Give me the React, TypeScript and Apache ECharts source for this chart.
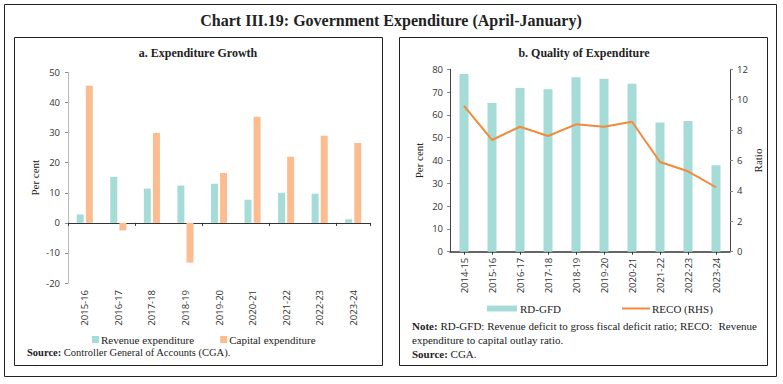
import React, { useEffect, useRef } from "react";
import * as echarts from "echarts";

const categoriesA = ["2015-16", "2016-17", "2017-18", "2018-19", "2019-20", "2020-21", "2021-22", "2022-23", "2023-24"];
const revenueExp = [2.8, 15.3, 11.4, 12.4, 13.0, 7.7, 10.0, 9.7, 1.2];
const capitalExp = [45.6, -2.5, 29.9, -13.2, 16.6, 35.3, 22.0, 29.0, 26.6];

const categoriesB = ["2014-15", "2015-16", "2016-17", "2017-18", "2018-19", "2019-20", "2020-21", "2021-22", "2022-23", "2023-24"];
const rdGfd = [77.9, 65.2, 71.8, 71.2, 76.5, 75.9, 73.7, 56.7, 57.3, 37.9];
const reco = [9.6, 7.35, 8.22, 7.61, 8.38, 8.22, 8.55, 5.9, 5.29, 4.24];

const TEAL = "#a6dcd8";
const ORANGE_BAR = "#fbbd8f";
const ORANGE_LINE = "#f28a3c";
const SERIF = "'Liberation Serif', serif";
const SANS = "'Open Sans', sans-serif";

export default function App() {
  const ref = useRef<HTMLDivElement>(null);
  useEffect(() => {
    if (!ref.current) return;
    const chart = echarts.init(ref.current, null, { renderer: "svg" });
    const tickLabel = { fontFamily: SANS, fontSize: 9.5, color: "#333" };
    const nameStyle = { fontFamily: SERIF, fontSize: 11, color: "#222" };
    const boldRich = (size: number) => ({ b: { fontFamily: SERIF, fontSize: size, fontWeight: "bold", fill: "#222" } });
    chart.setOption({
      animation: false,
      backgroundColor: "#fff",
      graphic: [
        { type: "rect", shape: { x: 4.5, y: 4.5, width: 772, height: 372 }, style: { fill: "none", stroke: "#222", lineWidth: 1 } },
        { type: "rect", shape: { x: 14.5, y: 37.5, width: 368, height: 328 }, style: { fill: "none", stroke: "#222", lineWidth: 1 } },
        { type: "rect", shape: { x: 399.5, y: 37.5, width: 368, height: 328 }, style: { fill: "none", stroke: "#222", lineWidth: 1 } },
        {
          type: "text", x: 391, y: 20,
          style: { text: "Chart III.19: Government Expenditure (April-January)", fontFamily: SERIF, fontSize: 16, fontWeight: "bold", fill: "#222", align: "center", verticalAlign: "middle" },
        },
        {
          type: "text", x: 198, y: 53,
          style: { text: "a. Expenditure Growth", fontFamily: SERIF, fontSize: 12, fontWeight: "bold", fill: "#222", align: "center", verticalAlign: "middle" },
        },
        {
          type: "text", x: 584, y: 53,
          style: { text: "b. Quality of Expenditure", fontFamily: SERIF, fontSize: 12, fontWeight: "bold", fill: "#222", align: "center", verticalAlign: "middle" },
        },
        {
          type: "text", x: 27, y: 352,
          style: {
            text: "{b|Source:} Controller General of Accounts (CGA).",
            fontFamily: SERIF, fontSize: 10.5, fill: "#222", verticalAlign: "middle",
            rich: boldRich(10.5),
          },
        },
        {
          type: "text", x: 412, y: 326,
          style: {
            text: "{b|Note:} RD-GFD: Revenue deficit to gross fiscal deficit ratio; RECO:",
            fontFamily: SERIF, fontSize: 11, fill: "#222", verticalAlign: "middle",
            rich: boldRich(11),
          },
        },
        {
          type: "text", x: 757, y: 326,
          style: { text: "Revenue", fontFamily: SERIF, fontSize: 11, fill: "#222", align: "right", verticalAlign: "middle" },
        },
        {
          type: "text", x: 412, y: 340,
          style: { text: "expenditure to capital outlay ratio.", fontFamily: SERIF, fontSize: 11, fill: "#222", verticalAlign: "middle" },
        },
        {
          type: "text", x: 412, y: 354,
          style: {
            text: "{b|Source:} CGA.",
            fontFamily: SERIF, fontSize: 11, fill: "#222", verticalAlign: "middle",
            rich: boldRich(11),
          },
        },
      ],
      legend: [
        {
          left: 87, top: 329, itemWidth: 7, itemHeight: 7, itemGap: 26, icon: "rect",
          data: ["Revenue expenditure", "Capital expenditure"],
          textStyle: { fontFamily: SERIF, fontSize: 11, color: "#222", padding: [0, 0, 0, -3] },
        },
        {
          left: 482, top: 298, itemWidth: 30, itemHeight: 6, icon: "rect",
          data: ["RD-GFD"],
          textStyle: { fontFamily: SERIF, fontSize: 11, color: "#222", padding: [0, 0, 0, -2] },
        },
        {
          left: 617, top: 298, itemWidth: 28, itemHeight: 2, icon: "rect",
          data: ["RECO (RHS)"],
          itemStyle: { color: ORANGE_LINE, borderWidth: 0 },
          textStyle: { fontFamily: SERIF, fontSize: 11, color: "#222", padding: [0, 0, 0, -3] },
        },
      ],
      grid: [
        { left: 68, top: 72.5, width: 302, height: 210.5 },
        { left: 450, top: 69.3, width: 280, height: 182.4 },
      ],
      xAxis: [
        {
          type: "category", gridIndex: 0, data: categoriesA, position: "bottom",
          axisLine: { show: false, onZero: false }, axisTick: { show: false },
          axisLabel: { ...tickLabel, rotate: 90, margin: 7 },
        },
        {
          type: "category", gridIndex: 0, data: categoriesA, position: "top",
          axisLine: { show: true, onZero: true, lineStyle: { color: "#333", width: 1 } },
          axisTick: { show: true, inside: true, length: 3, lineStyle: { color: "#333" } },
          axisLabel: { show: false },
        },
        {
          type: "category", gridIndex: 1, data: categoriesB, position: "bottom",
          axisLine: { show: true, lineStyle: { color: "#333", width: 1.5 } },
          axisTick: { show: true, alignWithLabel: true, length: 3, lineStyle: { color: "#333" } },
          axisLabel: { ...tickLabel, rotate: 90, margin: 6 },
        },
      ],
      yAxis: [
        {
          type: "value", gridIndex: 0, min: -20, max: 50, interval: 10,
          name: "Per cent", nameLocation: "middle", nameGap: 28, nameTextStyle: nameStyle,
          axisLine: { show: true, lineStyle: { color: "#bbb" } },
          axisTick: { show: true, length: 3, lineStyle: { color: "#888" } },
          axisLabel: { ...tickLabel, margin: 8 },
          splitLine: { show: false },
        },
        {
          type: "value", gridIndex: 1, min: 0, max: 80, interval: 10, position: "left",
          name: "Per cent", nameLocation: "middle", nameGap: 26, nameTextStyle: nameStyle,
          axisLine: { show: true, lineStyle: { color: "#444" } },
          axisTick: { show: true, length: 3, lineStyle: { color: "#888" } },
          axisLabel: { ...tickLabel, margin: 7 },
          splitLine: { show: false },
        },
        {
          type: "value", gridIndex: 1, min: 0, max: 12, interval: 2, position: "right",
          name: "Ratio", nameLocation: "middle", nameGap: 22, nameTextStyle: nameStyle,
          axisLine: { show: true, lineStyle: { color: "#444" } },
          axisTick: { show: true, length: 3, lineStyle: { color: "#888" } },
          axisLabel: { ...tickLabel, margin: 7 },
          splitLine: { show: false },
        },
      ],
      series: [
        {
          name: "Revenue expenditure", type: "bar", xAxisIndex: 0, yAxisIndex: 0,
          data: revenueExp, barWidth: 7, barGap: "30%", itemStyle: { color: TEAL },
        },
        {
          name: "Capital expenditure", type: "bar", xAxisIndex: 0, yAxisIndex: 0,
          data: capitalExp, barWidth: 7, barGap: "30%", itemStyle: { color: ORANGE_BAR },
        },
        {
          name: "RD-GFD", type: "bar", xAxisIndex: 2, yAxisIndex: 1,
          data: rdGfd, barWidth: 9, itemStyle: { color: TEAL },
        },
        {
          name: "RECO (RHS)", type: "line", xAxisIndex: 2, yAxisIndex: 2,
          data: reco, symbol: "none", lineStyle: { color: ORANGE_LINE, width: 2 }, itemStyle: { color: ORANGE_LINE },
        },
      ],
    });
    return () => chart.dispose();
  }, []);
  return <div ref={ref} style={{ position: "fixed", left: 0, top: 0, width: 783, height: 384 }} />;
}
